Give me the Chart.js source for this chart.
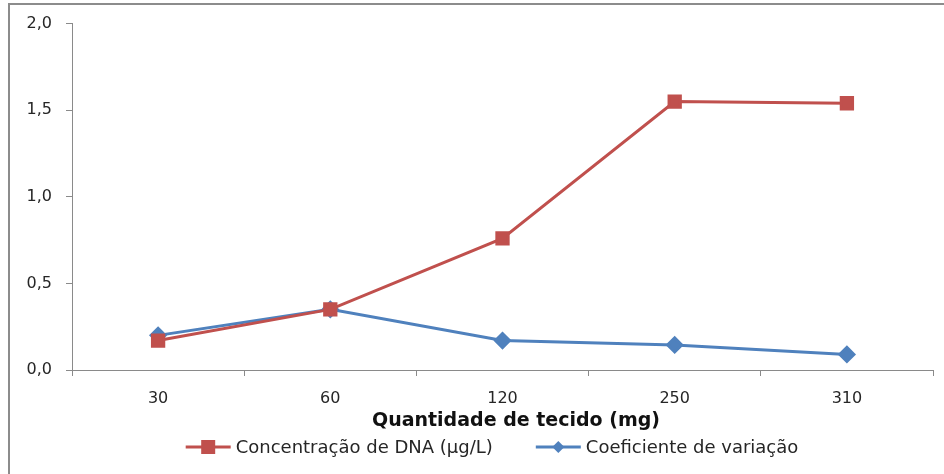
<!DOCTYPE html>
<html>
<head>
<meta charset="utf-8">
<script src="https://cdn.jsdelivr.net/npm/chart.js@4/dist/chart.umd.min.js"></script>
<style>
  html, body { margin: 0; padding: 0; background: #fff; }
  #wrap { width: 944px; height: 474px; position: relative; }
</style>
</head>
<body>
<div id="wrap"><canvas id="c" width="944" height="474"></canvas></div>
<script>
// Tissue amount (mg) on the x axis
const categories = ['30', '60', '120', '250', '310'];
// DNA concentration (µg/L)
const dnaConcentration = [0.17, 0.35, 0.76, 1.55, 1.54];
// Coefficient of variation
const coefVariation = [0.20, 0.35, 0.17, 0.145, 0.09];

const seriesNames = ['Concentração de DNA (µg/L)', 'Coeficiente de variação'];
const xTitle = 'Quantidade de tecido (mg)';

const FONT = '"DejaVu Sans", Verdana, sans-serif';
const AXIS_GRAY = '#8a8a8a';
const TEXT = '#262626';

// Outer frame, axis title and legend drawn on the canvas
const decorations = {
  id: 'decorations',
  afterDraw(chart) {
    const ctx = chart.ctx;
    ctx.save();
    // frame
    ctx.strokeStyle = '#8c8c8c';
    ctx.lineWidth = 2;
    ctx.beginPath();
    ctx.moveTo(9, 480);
    ctx.lineTo(9, 4);
    ctx.lineTo(950, 4);
    ctx.stroke();

    // x axis title
    ctx.fillStyle = '#111';
    ctx.font = 'bold 19px ' + FONT;
    ctx.textAlign = 'center';
    ctx.textBaseline = 'middle';
    ctx.fillText(xTitle, 516, 421);

    // legend
    ctx.font = '18px ' + FONT;
    ctx.textAlign = 'left';
    const y = 447;
    const lineLen = 45, gap = 5, itemGap = 43;
    const widths = chart.data.datasets.map(d => ctx.measureText(d.label).width);
    const total = widths.reduce((a, w) => a + lineLen + gap + w, 0) + itemGap;
    let x = 492 - total / 2;
    chart.data.datasets.forEach((d, i) => {
      ctx.strokeStyle = d.borderColor;
      ctx.lineWidth = 3;
      ctx.beginPath();
      ctx.moveTo(x, y);
      ctx.lineTo(x + lineLen, y);
      ctx.stroke();
      ctx.fillStyle = d.pointBackgroundColor;
      const cx = x + lineLen / 2;
      if (d.pointStyle === 'rect') {
        ctx.fillRect(cx - 7, y - 7, 14, 14);
      } else {
        ctx.beginPath();
        ctx.moveTo(cx, y - 6);
        ctx.lineTo(cx + 6, y);
        ctx.lineTo(cx, y + 6);
        ctx.lineTo(cx - 6, y);
        ctx.closePath();
        ctx.fill();
      }
      ctx.fillStyle = TEXT;
      ctx.fillText(d.label, x + lineLen + gap, y + 1);
      x += lineLen + gap + widths[i] + itemGap;
    });
    ctx.restore();
  }
};

new Chart(document.getElementById('c'), {
  type: 'line',
  data: {
    labels: categories,
    datasets: [
      {
        label: seriesNames[0],
        data: dnaConcentration,
        borderColor: '#C0504D',
        backgroundColor: '#C0504D',
        pointBackgroundColor: '#C0504D',
        pointBorderColor: '#C0504D',
        pointStyle: 'rect',
        pointRadius: 8,
        borderWidth: 3,
        tension: 0
      },
      {
        label: seriesNames[1],
        data: coefVariation,
        borderColor: '#4F81BD',
        backgroundColor: '#4F81BD',
        pointBackgroundColor: '#4F81BD',
        pointBorderColor: '#4F81BD',
        pointStyle: 'rectRot',
        pointRadius: 7,
        borderWidth: 3,
        tension: 0
      }
    ]
  },
  options: {
    responsive: false,
    animation: false,
    layout: { padding: { left: 0, top: 20, right: 9, bottom: 0 } },
    plugins: {
      legend: { display: false },
      tooltip: { enabled: false }
    },
    scales: {
      x: {
        offset: true,
        grid: {
          offset: true,
          drawOnChartArea: false,
          color: AXIS_GRAY,
          tickLength: 6
        },
        border: { color: AXIS_GRAY, width: 1 },
        ticks: {
          color: TEXT,
          font: { family: FONT, size: 16 },
          padding: 13,
          maxRotation: 0
        },
        afterFit(scale) { scale.height = 104; }
      },
      y: {
        min: 0,
        max: 2,
        grid: {
          drawOnChartArea: false,
          color: AXIS_GRAY,
          tickLength: 6
        },
        border: { color: AXIS_GRAY, width: 1 },
        ticks: {
          stepSize: 0.5,
          color: TEXT,
          font: { family: FONT, size: 16 },
          padding: 14,
          callback: v => v.toFixed(1).replace('.', ',')
        },
        afterFit(scale) { scale.width = 72; }
      }
    }
  },
  plugins: [decorations]
});
</script>
</body>
</html>
